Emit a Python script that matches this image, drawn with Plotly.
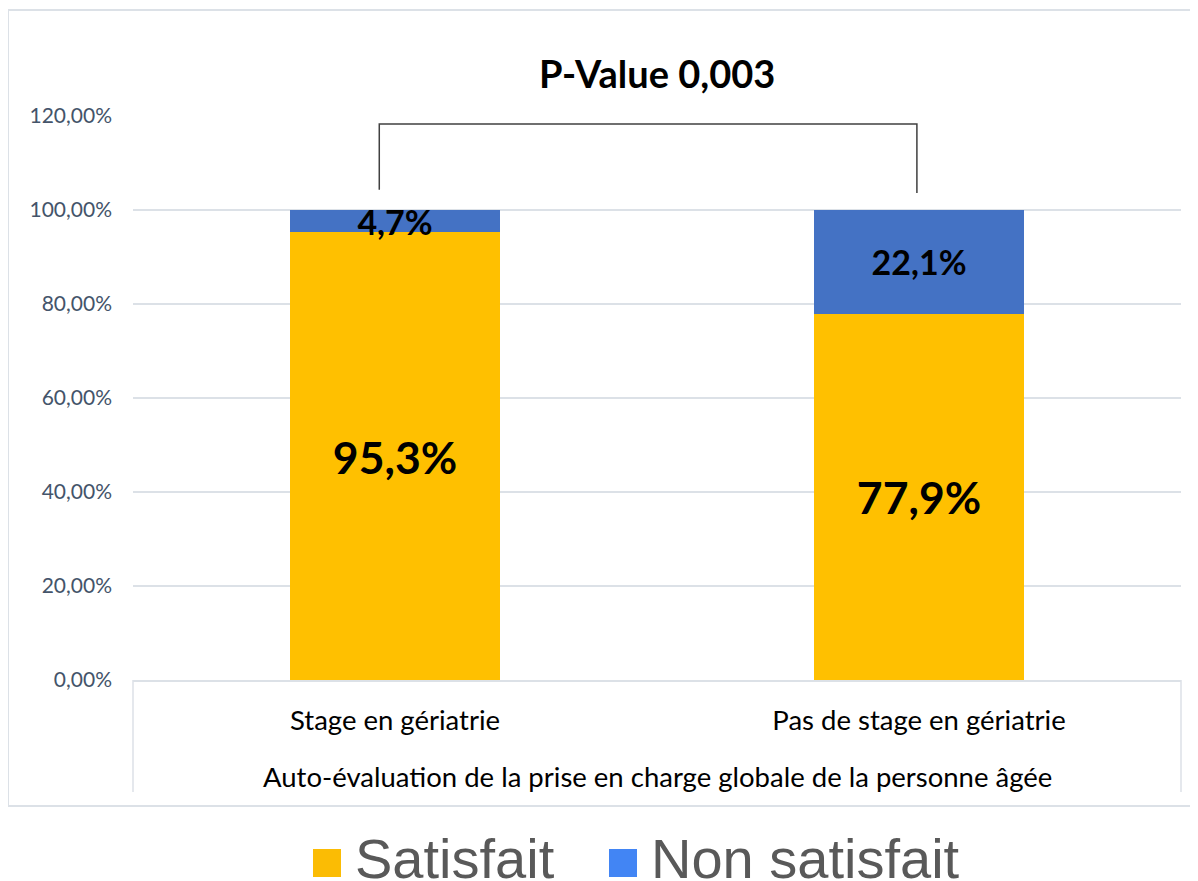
import plotly.graph_objects as go

# ---- data ----
categories = ["Stage en gériatrie", "Pas de stage en gériatrie"]
satisfait = [95.3, 77.9]
non_satisfait = [4.7, 22.1]
y_ticks = [0, 20, 40, 60, 80, 100, 120]
y_tick_labels = ["0,00%", "20,00%", "40,00%", "60,00%", "80,00%", "100,00%", "120,00%"]
series_names = ["Satisfait", "Non satisfait"]
title_text = "P-Value 0,003"
axis_title = "Auto-évaluation de la prise en charge globale de la personne âgée"
bracket_level = 118.3
bracket_left_bottom = 104.3
bracket_right_bottom = 103.6

OFF = 8  # page body margin
W, H = 1198 - OFF, 881 - OFF
L, R, T, B = 133 - OFF, 1181 - OFF, 116 - OFF, 680 - OFF


def fmt(v):
    return f"{v:.1f}%".replace(".", ",")


def px(x):
    return (x - OFF - L) / (R - L)


def py(y):
    return (B - (y - OFF)) / (B - T)


xpos = list(range(len(categories)))
FONT = "Lato, Calibri, Carlito, sans-serif"
GRID = "#DCE1E7"

fig = go.Figure()
fig.add_trace(go.Bar(
    x=xpos, y=satisfait, name=series_names[0], width=0.4,
    marker=dict(color="#FFC000", line=dict(width=0)),
    text=[fmt(v) for v in satisfait], textposition="inside",
    insidetextanchor="middle", constraintext="none",
    textfont=dict(family=FONT, size=44.5, color="black", weight="bold"),
    showlegend=False,
))
fig.add_trace(go.Bar(
    x=xpos, y=non_satisfait, name=series_names[1], width=0.4,
    marker=dict(color="#4472C4", line=dict(width=0)),
    text=[fmt(v) for v in non_satisfait], textposition="inside",
    insidetextanchor="middle", constraintext="none",
    textfont=dict(family=FONT, size=34, color="black", weight="bold"),
    showlegend=False,
))

# significance bracket
fig.add_trace(go.Scatter(
    x=[xpos[0] - 0.03, xpos[0] - 0.03, xpos[1] - 0.004, xpos[1] - 0.004],
    y=[bracket_left_bottom, bracket_level, bracket_level, bracket_right_bottom],
    mode="lines", line=dict(color="#404040", width=1.5),
    showlegend=False, hoverinfo="skip",
))

shapes = []
# category box side lines
for xp in (0, 1):
    shapes.append(dict(type="line", xref="paper", yref="paper",
                       x0=xp, x1=xp, y0=0, y1=py(792),
                       line=dict(color=GRID, width=1.5)))
# outer chart border
shapes.append(dict(type="rect", xref="paper", yref="paper",
                   x0=px(8), x1=px(1210), y0=py(806), y1=py(10),
                   line=dict(color=GRID, width=2), layer="below"))

# manual legend
legend_colors = ["#FBBC04", "#4285F4"]
legend_sq_x = [313, 609]
legend_text_x = [353, 649]
annotations = []
for name, col, sx, tx in zip(series_names, legend_colors, legend_sq_x, legend_text_x):
    shapes.append(dict(type="rect", xref="paper", yref="paper",
                       x0=px(sx), x1=px(sx + 28), y0=py(877), y1=py(849),
                       fillcolor=col, line=dict(width=0)))
    annotations.append(dict(text=name, xref="paper", yref="paper",
                            x=px(tx), y=py(878), xanchor="left", yanchor="bottom",
                            yshift=-14,
                            showarrow=False,
                            font=dict(family="Liberation Sans, Arial", size=56, color="#595959")))

annotations.append(dict(text=f"<b>{title_text}</b>", xref="paper", yref="paper",
                        x=0.5, y=py(73), xanchor="center", yanchor="middle",
                        showarrow=False, font=dict(family=FONT, size=38, color="black")))
annotations.append(dict(text=axis_title, xref="paper", yref="paper",
                        x=0.5, y=py(776), xanchor="center", yanchor="middle",
                        showarrow=False, font=dict(family=FONT, size=27.5, color="black")))

fig.update_layout(
    width=W, height=H,
    margin=dict(l=L, r=W - R, t=T, b=H - B, pad=0),
    barmode="stack",
    plot_bgcolor="white", paper_bgcolor="white",
    font=dict(family=FONT),
    shapes=shapes, annotations=annotations,
    xaxis=dict(range=[-0.5, 1.5], tickvals=xpos, ticktext=categories,
               showgrid=False, zeroline=False, showline=True, linecolor=GRID, linewidth=1.5,
               ticks="", ticklabelstandoff=15,
               tickfont=dict(family=FONT, size=27.5, color="black"), fixedrange=True),
    yaxis=dict(range=[0, 120], tickvals=y_ticks, ticktext=y_tick_labels,
               showgrid=True, gridcolor=GRID, gridwidth=1.5, zeroline=False,
               showline=False, ticks="", ticklabelstandoff=20,
               tickfont=dict(family=FONT, size=21, color="#44546A"), fixedrange=True),
)

fig.write_html("out.html")
